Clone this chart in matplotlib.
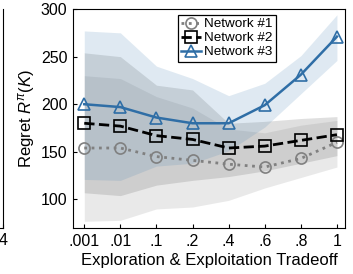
import numpy as np
import matplotlib
matplotlib.use("Agg")
import matplotlib.pyplot as plt

plt.rcParams["font.family"] = ["Liberation Sans", "DejaVu Sans"]
plt.rcParams["mathtext.fontset"] = "custom"
plt.rcParams["mathtext.rm"] = "Liberation Sans"
plt.rcParams["mathtext.it"] = "Liberation Sans:italic"

# tradeoff settings on the x axis
tradeoff = [".001", ".01", ".1", ".2", ".4", ".6", ".8", "1"]

# mean regret per network
net1 = [154, 154, 145, 141, 137, 134, 143, 160]
net2 = [180, 177, 167, 163, 154, 156, 162, 168]
net3 = [200, 197, 186, 180, 180, 199, 231, 271]

# spread (lower / upper) per network
net1_lo = [77, 78, 90, 92, 99, 112, 123, 134]
net1_hi = [230, 227, 208, 196, 174, 170, 178, 183]
net2_lo = [107, 104, 115, 120, 124, 130, 138, 146]
net2_hi = [254, 250, 220, 215, 180, 182, 185, 187]
net3_lo = [121, 120, 135, 138, 151, 176, 211, 246]
net3_hi = [277, 275, 240, 227, 209, 222, 251, 294]

BLUE = "#2f6ea6"

fig = plt.figure(figsize=(3.53, 2.74), dpi=100)

# edge of the neighbouring panel, cut off at the left
ax0 = fig.add_axes([-0.3, 0.168, 0.309, 0.799])
ax0.set_xlim(0, 4)
ax0.set_ylim(70, 300)
ax0.set_xticks([4])
ax0.set_xticklabels(["4"], fontsize=11.5)
ax0.set_yticks([])
ax0.tick_params(direction="in", length=3)
for s in ("top", "left"):
    ax0.spines[s].set_visible(False)

ax = fig.add_axes([0.207, 0.168, 0.770, 0.799])
x = np.arange(len(tradeoff))

ax.fill_between(x, net1_lo, net1_hi, color="#808080", alpha=0.17, lw=0)
ax.fill_between(x, net2_lo, net2_hi, color="#707070", alpha=0.22, lw=0)
ax.fill_between(x, net3_lo, net3_hi, color="#4682b4", alpha=0.17, lw=0)

ax.plot(x, net1, ls=":", lw=2, color="#808080", marker="o", ms=8,
        mfc="none", mec="#808080", mew=1.2, label="Network #1")
ax.plot(x, net2, ls="--", lw=2, color="black", marker="s", ms=8,
        mfc="none", mec="black", mew=1.2, label="Network #2")
ax.plot(x, net3, ls="-", lw=1.8, color=BLUE, marker="^", ms=8.5,
        mfc="none", mec=BLUE, mew=1.2, label="Network #3")

ax.set_xlim(-0.31, 7.22)
ax.set_ylim(70, 300)
ax.set_xticks(x)
ax.set_xticklabels(tradeoff)
ax.set_yticks([100, 150, 200, 250, 300])
ax.tick_params(direction="in", length=3, labelsize=11.5, pad=4)
ax.set_xlabel("Exploration & Exploitation Tradeoff", fontsize=12, labelpad=3)
ax.set_ylabel(r"Regret $R^{\pi}(K)$", fontsize=12, labelpad=3)

leg = ax.legend(loc="upper center", bbox_to_anchor=(0.566, 0.975),
                fontsize=9.7, fancybox=False, edgecolor="black",
                handlelength=1.5, handletextpad=0.2, borderpad=0.25,
                labelspacing=0.12, borderaxespad=0.0, framealpha=1)
leg.get_frame().set_linewidth(0.9)

fig.savefig("out.png", dpi=100)
